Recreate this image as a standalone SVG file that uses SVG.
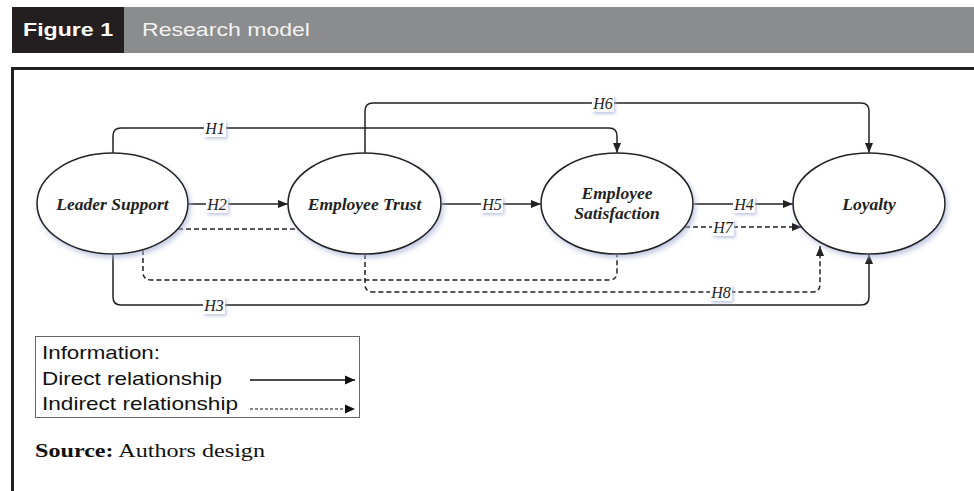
<svg xmlns="http://www.w3.org/2000/svg" width="974" height="491" viewBox="0 0 974 491">
<style>
.node ellipse{fill:#fff;stroke:#222;stroke-width:1.6;filter:url(#sh)}
.ntext{font-family:"Liberation Serif",serif;font-style:italic;font-weight:bold;font-size:17.5px;fill:#222;text-anchor:middle}
.c{fill:none;stroke:#222;stroke-width:1.5}
.d{stroke-dasharray:5,3}
.lbg{fill:#fff;filter:url(#sh2)}
.lt{font-family:"Liberation Serif",serif;font-style:italic;font-size:16px;fill:#222;text-anchor:middle}
.leg{font-family:"Liberation Sans",Arial,sans-serif;font-size:18.5px;fill:#111}
</style>
<defs>
<filter id="sh" x="-20%" y="-20%" width="150%" height="150%">
<feDropShadow dx="2" dy="3" stdDeviation="2.5" flood-color="#aab2d6" flood-opacity="0.7"/>
</filter>
<filter id="sh2" x="-30%" y="-30%" width="170%" height="170%">
<feDropShadow dx="1.5" dy="2" stdDeviation="1.5" flood-color="#aab2d6" flood-opacity="0.7"/>
</filter>
<marker id="ah" viewBox="0 0 10 10" refX="10" refY="5" markerWidth="10" markerHeight="10" markerUnits="userSpaceOnUse" orient="auto">
<path d="M0,1 L10,5 L0,9 Z" fill="#222"/>
</marker>
<marker id="ahs" viewBox="0 0 10 10" refX="10" refY="5" markerWidth="10" markerHeight="10" markerUnits="userSpaceOnUse" orient="auto">
<path d="M0,0.5 L10,5 L0,9.5 Z" fill="#111"/>
</marker>
</defs>
<rect width="974" height="491" fill="#fff"/>
<g id="header">
<rect x="12" y="7" width="962" height="46" fill="#8b8c8e"/>
<rect x="12" y="7" width="112" height="46" fill="#231f20"/>
<text x="23" y="36" font-family="Liberation Sans,Arial,sans-serif" font-weight="bold" font-size="18" fill="#fff" textLength="90" lengthAdjust="spacingAndGlyphs">Figure 1</text>
<text x="142" y="36" font-family="Liberation Sans,Arial,sans-serif" font-size="18" fill="#f2f2f2" textLength="168" lengthAdjust="spacingAndGlyphs">Research model</text>
</g>
<path d="M12.5,491 V68.5 H974" fill="none" stroke="#231f20" stroke-width="3"/>

<g id="connectors">
<path class="c" marker-end="url(#ah)" d="M113,153 V136 Q113,128 121,128 H609 Q617,128 617,136 V153"/>
<path class="c" marker-end="url(#ah)" d="M365,153 V111 Q365,103 373,103 H861 Q869,103 869,111 V153"/>
<path class="c" marker-end="url(#ah)" d="M188,204 H288"/>
<path class="c" marker-end="url(#ah)" d="M441,204 H541"/>
<path class="c" marker-end="url(#ah)" d="M693,204 H793"/>
<path class="c d" d="M178,229 H296"/>
<path class="c d" marker-end="url(#ah)" d="M685,227 H802"/>
<path class="c d" d="M143,250 V272 Q143,280 151,280 H609 Q617,280 617,272 V254"/>
<path class="c d" marker-end="url(#ah)" d="M365,254 V284 Q365,292 373,292 H812 Q820,292 820,284 V246"/>
<path class="c" marker-end="url(#ah)" d="M113,254 V297 Q113,305 121,305 H861 Q869,305 869,297 V254"/>
<g>
<rect class="lbg" x="204" y="120" width="22" height="17"/><text class="lt" x="215" y="134">H1</text>
<rect class="lbg" x="592" y="95" width="22" height="17"/><text class="lt" x="603" y="109">H6</text>
<rect class="lbg" x="206" y="196" width="22" height="17"/><text class="lt" x="217" y="210">H2</text>
<rect class="lbg" x="481" y="196" width="22" height="17"/><text class="lt" x="492" y="210">H5</text>
<rect class="lbg" x="733" y="196" width="22" height="17"/><text class="lt" x="744" y="210">H4</text>
<rect class="lbg" x="712" y="219" width="22" height="17"/><text class="lt" x="723" y="233">H7</text>
<rect class="lbg" x="710" y="284" width="22" height="17"/><text class="lt" x="721" y="298">H8</text>
<rect class="lbg" x="203" y="297" width="22" height="17"/><text class="lt" x="214" y="311">H3</text>
</g>
</g>

<g id="leader-support" class="node">
<ellipse cx="112.5" cy="203.5" rx="75.5" ry="50.5"/>
<text class="ntext" x="112.5" y="210">Leader Support</text>
</g>
<g id="employee-trust" class="node">
<ellipse cx="364.5" cy="203.5" rx="76.5" ry="50.5"/>
<text class="ntext" x="364.5" y="210">Employee Trust</text>
</g>
<g id="employee-satisfaction" class="node">
<ellipse cx="617" cy="203.5" rx="76" ry="50.5"/>
<text class="ntext" x="617" y="199">Employee</text>
<text class="ntext" x="617" y="219">Satisfaction</text>
</g>
<g id="loyalty" class="node">
<ellipse cx="869" cy="203.5" rx="76" ry="50.5"/>
<text class="ntext" x="869" y="210">Loyalty</text>
</g>

<g id="legend">
<rect x="35.5" y="336.5" width="324" height="81" fill="#fff" stroke="#666" stroke-width="1"/>
<text class="leg" x="42" y="359" textLength="118" lengthAdjust="spacingAndGlyphs">Information:</text>
<text class="leg" x="42" y="385" textLength="180" lengthAdjust="spacingAndGlyphs">Direct relationship</text>
<text class="leg" x="42" y="410" textLength="196" lengthAdjust="spacingAndGlyphs">Indirect relationship</text>
<path d="M250,380 H355" stroke="#111" stroke-width="1.3" marker-end="url(#ahs)"/>
<path d="M250,409 H355" stroke="#111" stroke-width="1.1" stroke-dasharray="3,2" marker-end="url(#ahs)"/>
</g>

<text x="35" y="457" font-family="Liberation Serif,serif" font-size="18" fill="#111" textLength="230" lengthAdjust="spacingAndGlyphs"><tspan font-weight="bold">Source:</tspan> Authors design</text>
</svg>
